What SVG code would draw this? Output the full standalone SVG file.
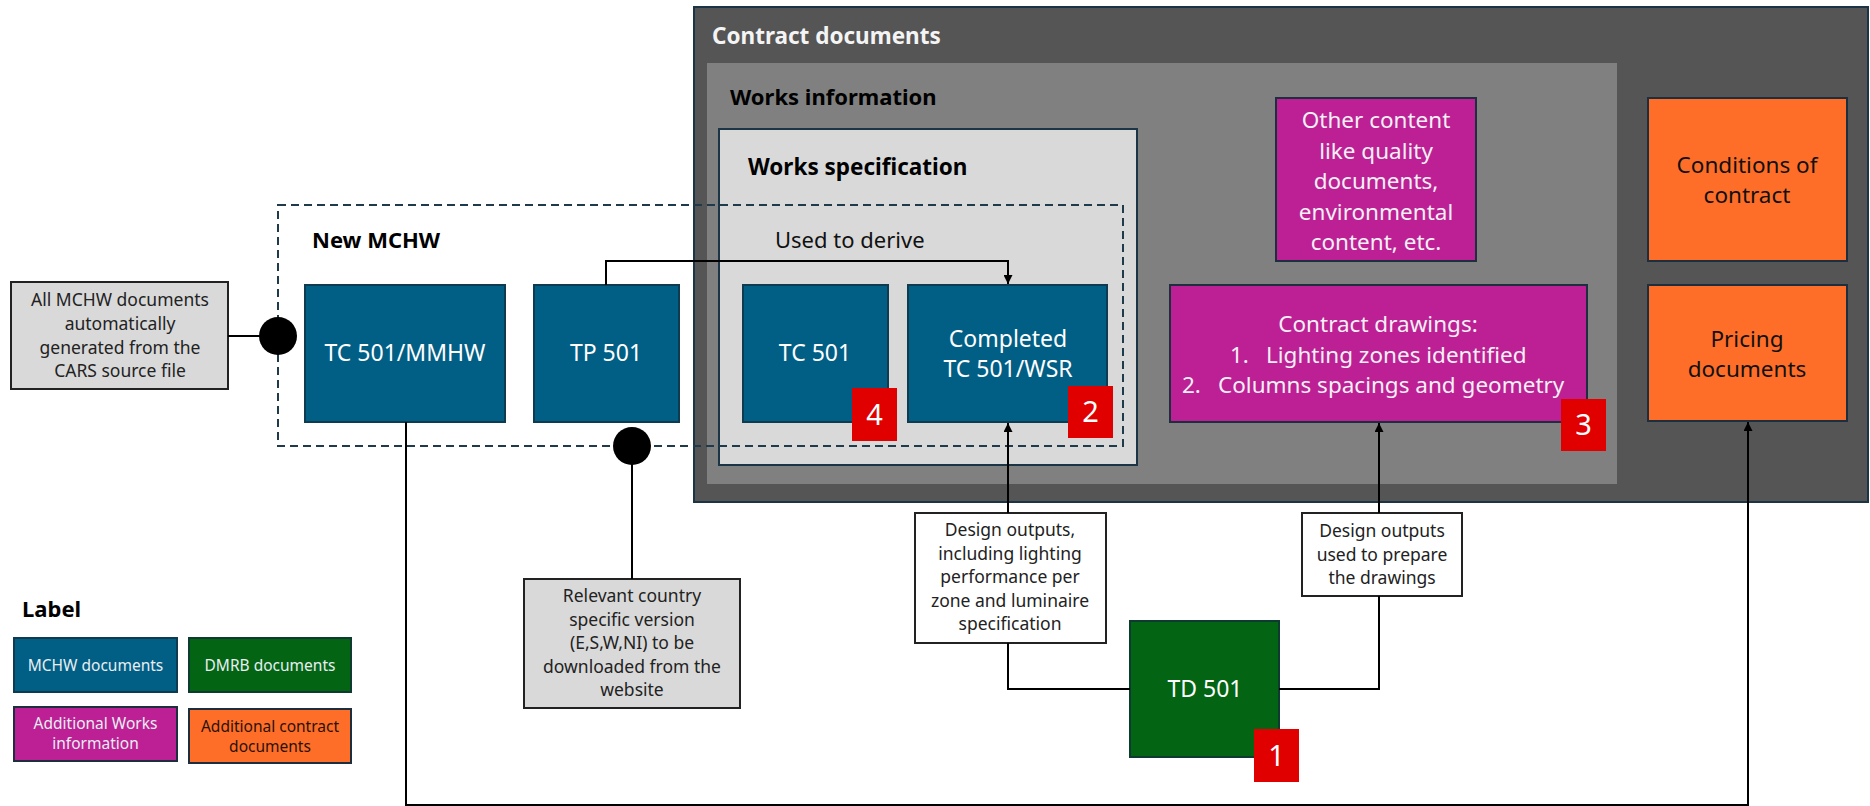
<svg xmlns="http://www.w3.org/2000/svg" width="1870" height="806" viewBox="0 0 1870 806">
<defs>
<marker id="arr" viewBox="0 0 10 10" refX="10" refY="5" markerWidth="9" markerHeight="9" markerUnits="userSpaceOnUse" orient="auto">
<path d="M0,0 L10,5 L0,10 z" fill="#000"/>
</marker>
<style>
text{font-family:"Noto Sans","Liberation Sans",sans-serif;}
.title{font-weight:bold;font-size:22px;fill:#000;}
.blue{fill:#015e85;stroke:#0e3b50;stroke-width:2;}
.green{fill:#036414;stroke:#0e3b30;stroke-width:2;}
.mag{fill:#bc2094;stroke:#1d2f3f;stroke-width:2;}
.orange{fill:#fe6e28;stroke:#1d2f3f;stroke-width:2;}
.note{fill:#d9d9d9;stroke:#222;stroke-width:2;}
.wnote{fill:#fff;stroke:#222;stroke-width:2;}
.badge{fill:#e00000;}
.bnum{font-size:29px;fill:#fff;text-anchor:middle;}
.bt{font-size:23px;fill:#fff;text-anchor:middle;}
.bt2{font-size:22.5px;fill:#f4f0f4;text-anchor:middle;}
.ot{font-size:22.5px;fill:#111;text-anchor:middle;}
.nt{font-size:17.5px;fill:#222;text-anchor:middle;}
.lt{font-size:15.5px;fill:#e8eef2;text-anchor:middle;}
.ln{fill:none;stroke:#000;stroke-width:2;}
</style>
</defs>

<g id="contract-documents">
<rect x="694" y="7" width="1174" height="495" fill="#555555" stroke="#1b3446" stroke-width="2"/>
<text x="712" y="44" class="title" style="fill:#f4f4f4;font-size:22.5px">Contract documents</text>
</g>
<g id="works-information">
<rect x="707" y="63" width="910" height="421" fill="#808080"/>
<text x="730" y="105" class="title">Works information</text>
</g>
<g id="works-specification">
<rect x="719" y="129" width="418" height="336" fill="#d9d9d9" stroke="#1b3446" stroke-width="2"/>
<text x="748" y="175" class="title" style="font-size:22.5px">Works specification</text>
</g>
<g id="new-mchw">
<rect x="278" y="205" width="845" height="241" fill="none" stroke="#1f3a4b" stroke-width="2" stroke-dasharray="8 5"/>
<text x="312" y="248" class="title">New MCHW</text>
</g>

<g id="tc501-mmhw">
<rect x="305" y="285" width="200" height="137" class="blue"/>
<text x="405" y="361" class="bt">TC 501/MMHW</text>
</g>
<g id="tp501">
<rect x="534" y="285" width="145" height="137" class="blue"/>
<text x="606" y="361" class="bt">TP 501</text>
</g>
<g id="tc501">
<rect x="743" y="285" width="145" height="137" class="blue"/>
<text x="815" y="361" class="bt">TC 501</text>
<rect x="852" y="388" width="45" height="53" class="badge"/>
<text x="874.5" y="425" class="bnum">4</text>
</g>
<g id="completed-tc501-wsr">
<rect x="908" y="285" width="199" height="137" class="blue"/>
<text x="1008" y="347" class="bt">Completed</text>
<text x="1008" y="377" class="bt">TC 501/WSR</text>
<rect x="1068" y="386" width="45" height="52" class="badge"/>
<text x="1090.5" y="422" class="bnum">2</text>
</g>
<g id="other-content">
<rect x="1276" y="98" width="200" height="163" class="mag"/>
<text x="1376" y="128" class="bt2">Other content</text>
<text x="1376" y="158.5" class="bt2">like quality</text>
<text x="1376" y="189" class="bt2">documents,</text>
<text x="1376" y="219.5" class="bt2">environmental</text>
<text x="1376" y="250" class="bt2">content, etc.</text>
</g>
<g id="contract-drawings">
<rect x="1170" y="285" width="417" height="137" class="mag"/>
<text x="1378" y="332" class="bt2">Contract drawings:</text>
<text x="1230" y="363" class="bt2" style="text-anchor:start">1.</text>
<text x="1266" y="363" class="bt2" style="text-anchor:start">Lighting zones identified</text>
<text x="1182" y="393" class="bt2" style="text-anchor:start">2.</text>
<text x="1218" y="393" class="bt2" style="text-anchor:start">Columns spacings and geometry</text>
<rect x="1561" y="399" width="45" height="52" class="badge"/>
<text x="1583.5" y="435" class="bnum">3</text>
</g>
<g id="conditions-of-contract">
<rect x="1648" y="98" width="199" height="163" class="orange"/>
<text x="1747" y="173" class="ot">Conditions of</text>
<text x="1747" y="203" class="ot">contract</text>
</g>
<g id="pricing-documents">
<rect x="1648" y="285" width="199" height="136" class="orange"/>
<text x="1747" y="347" class="ot">Pricing</text>
<text x="1747" y="377" class="ot">documents</text>
</g>

<g id="note-all-mchw">
<rect x="11" y="282" width="217" height="107" class="note"/>
<text x="120" y="306" class="nt">All MCHW documents</text>
<text x="120" y="330" class="nt">automatically</text>
<text x="120" y="353.5" class="nt">generated from the</text>
<text x="120" y="377" class="nt">CARS source file</text>
</g>
<g id="note-relevant-country">
<rect x="524" y="579" width="216" height="129" class="note"/>
<text x="632" y="602" class="nt">Relevant country</text>
<text x="632" y="625.5" class="nt">specific version</text>
<text x="632" y="649" class="nt">(E,S,W,NI) to be</text>
<text x="632" y="672.5" class="nt">downloaded from the</text>
<text x="632" y="696" class="nt">website</text>
</g>
<g id="label-design-outputs-1">
<rect x="915" y="513" width="191" height="130" class="wnote"/>
<text x="1010" y="536" class="nt">Design outputs,</text>
<text x="1010" y="559.5" class="nt">including lighting</text>
<text x="1010" y="583" class="nt">performance per</text>
<text x="1010" y="606.5" class="nt">zone and luminaire</text>
<text x="1010" y="630" class="nt">specification</text>
</g>
<g id="label-design-outputs-2">
<rect x="1302" y="513" width="160" height="83" class="wnote"/>
<text x="1382" y="537" class="nt">Design outputs</text>
<text x="1382" y="560.5" class="nt">used to prepare</text>
<text x="1382" y="584" class="nt">the drawings</text>
</g>
<g id="td501">
<rect x="1130" y="621" width="149" height="136" class="green"/>
<text x="1205" y="697" class="bt">TD 501</text>
<rect x="1254" y="729" width="45" height="53" class="badge"/>
<text x="1276.5" y="766" class="bnum">1</text>
</g>

<g id="legend">
<text x="22" y="617" class="title">Label</text>
<rect x="14" y="638" width="163" height="54" class="blue"/>
<text x="95.5" y="671" class="lt">MCHW documents</text>
<rect x="189" y="638" width="162" height="54" class="green"/>
<text x="270" y="671" class="lt">DMRB documents</text>
<rect x="14" y="707" width="163" height="54" class="mag"/>
<text x="95.5" y="729" class="lt">Additional Works</text>
<text x="95.5" y="749" class="lt">information</text>
<rect x="189" y="709" width="162" height="54" class="orange"/>
<text x="270" y="732" class="lt" style="fill:#2a1208">Additional contract</text>
<text x="270" y="752" class="lt" style="fill:#2a1208">documents</text>
</g>

<g id="connectors">
<line x1="228" y1="336" x2="278" y2="336" class="ln"/>
<circle cx="278" cy="336" r="19" fill="#000"/>
<line x1="632" y1="579" x2="632" y2="446" class="ln"/>
<circle cx="632" cy="446" r="19" fill="#000"/>
<polyline points="606,285 606,261 1008,261 1008,284" class="ln" marker-end="url(#arr)"/>
<text x="775" y="248" style="font-size:22px;fill:#111">Used to derive</text>
<polyline points="1130,689 1008,689 1008,643" class="ln"/>
<line x1="1008" y1="513" x2="1008" y2="423" class="ln" marker-end="url(#arr)"/>
<polyline points="1279,689 1379,689 1379,596" class="ln"/>
<line x1="1379" y1="513" x2="1379" y2="423" class="ln" marker-end="url(#arr)"/>
<polyline points="406,422 406,805 1748,805 1748,422" class="ln" marker-end="url(#arr)"/>
</g>
</svg>
